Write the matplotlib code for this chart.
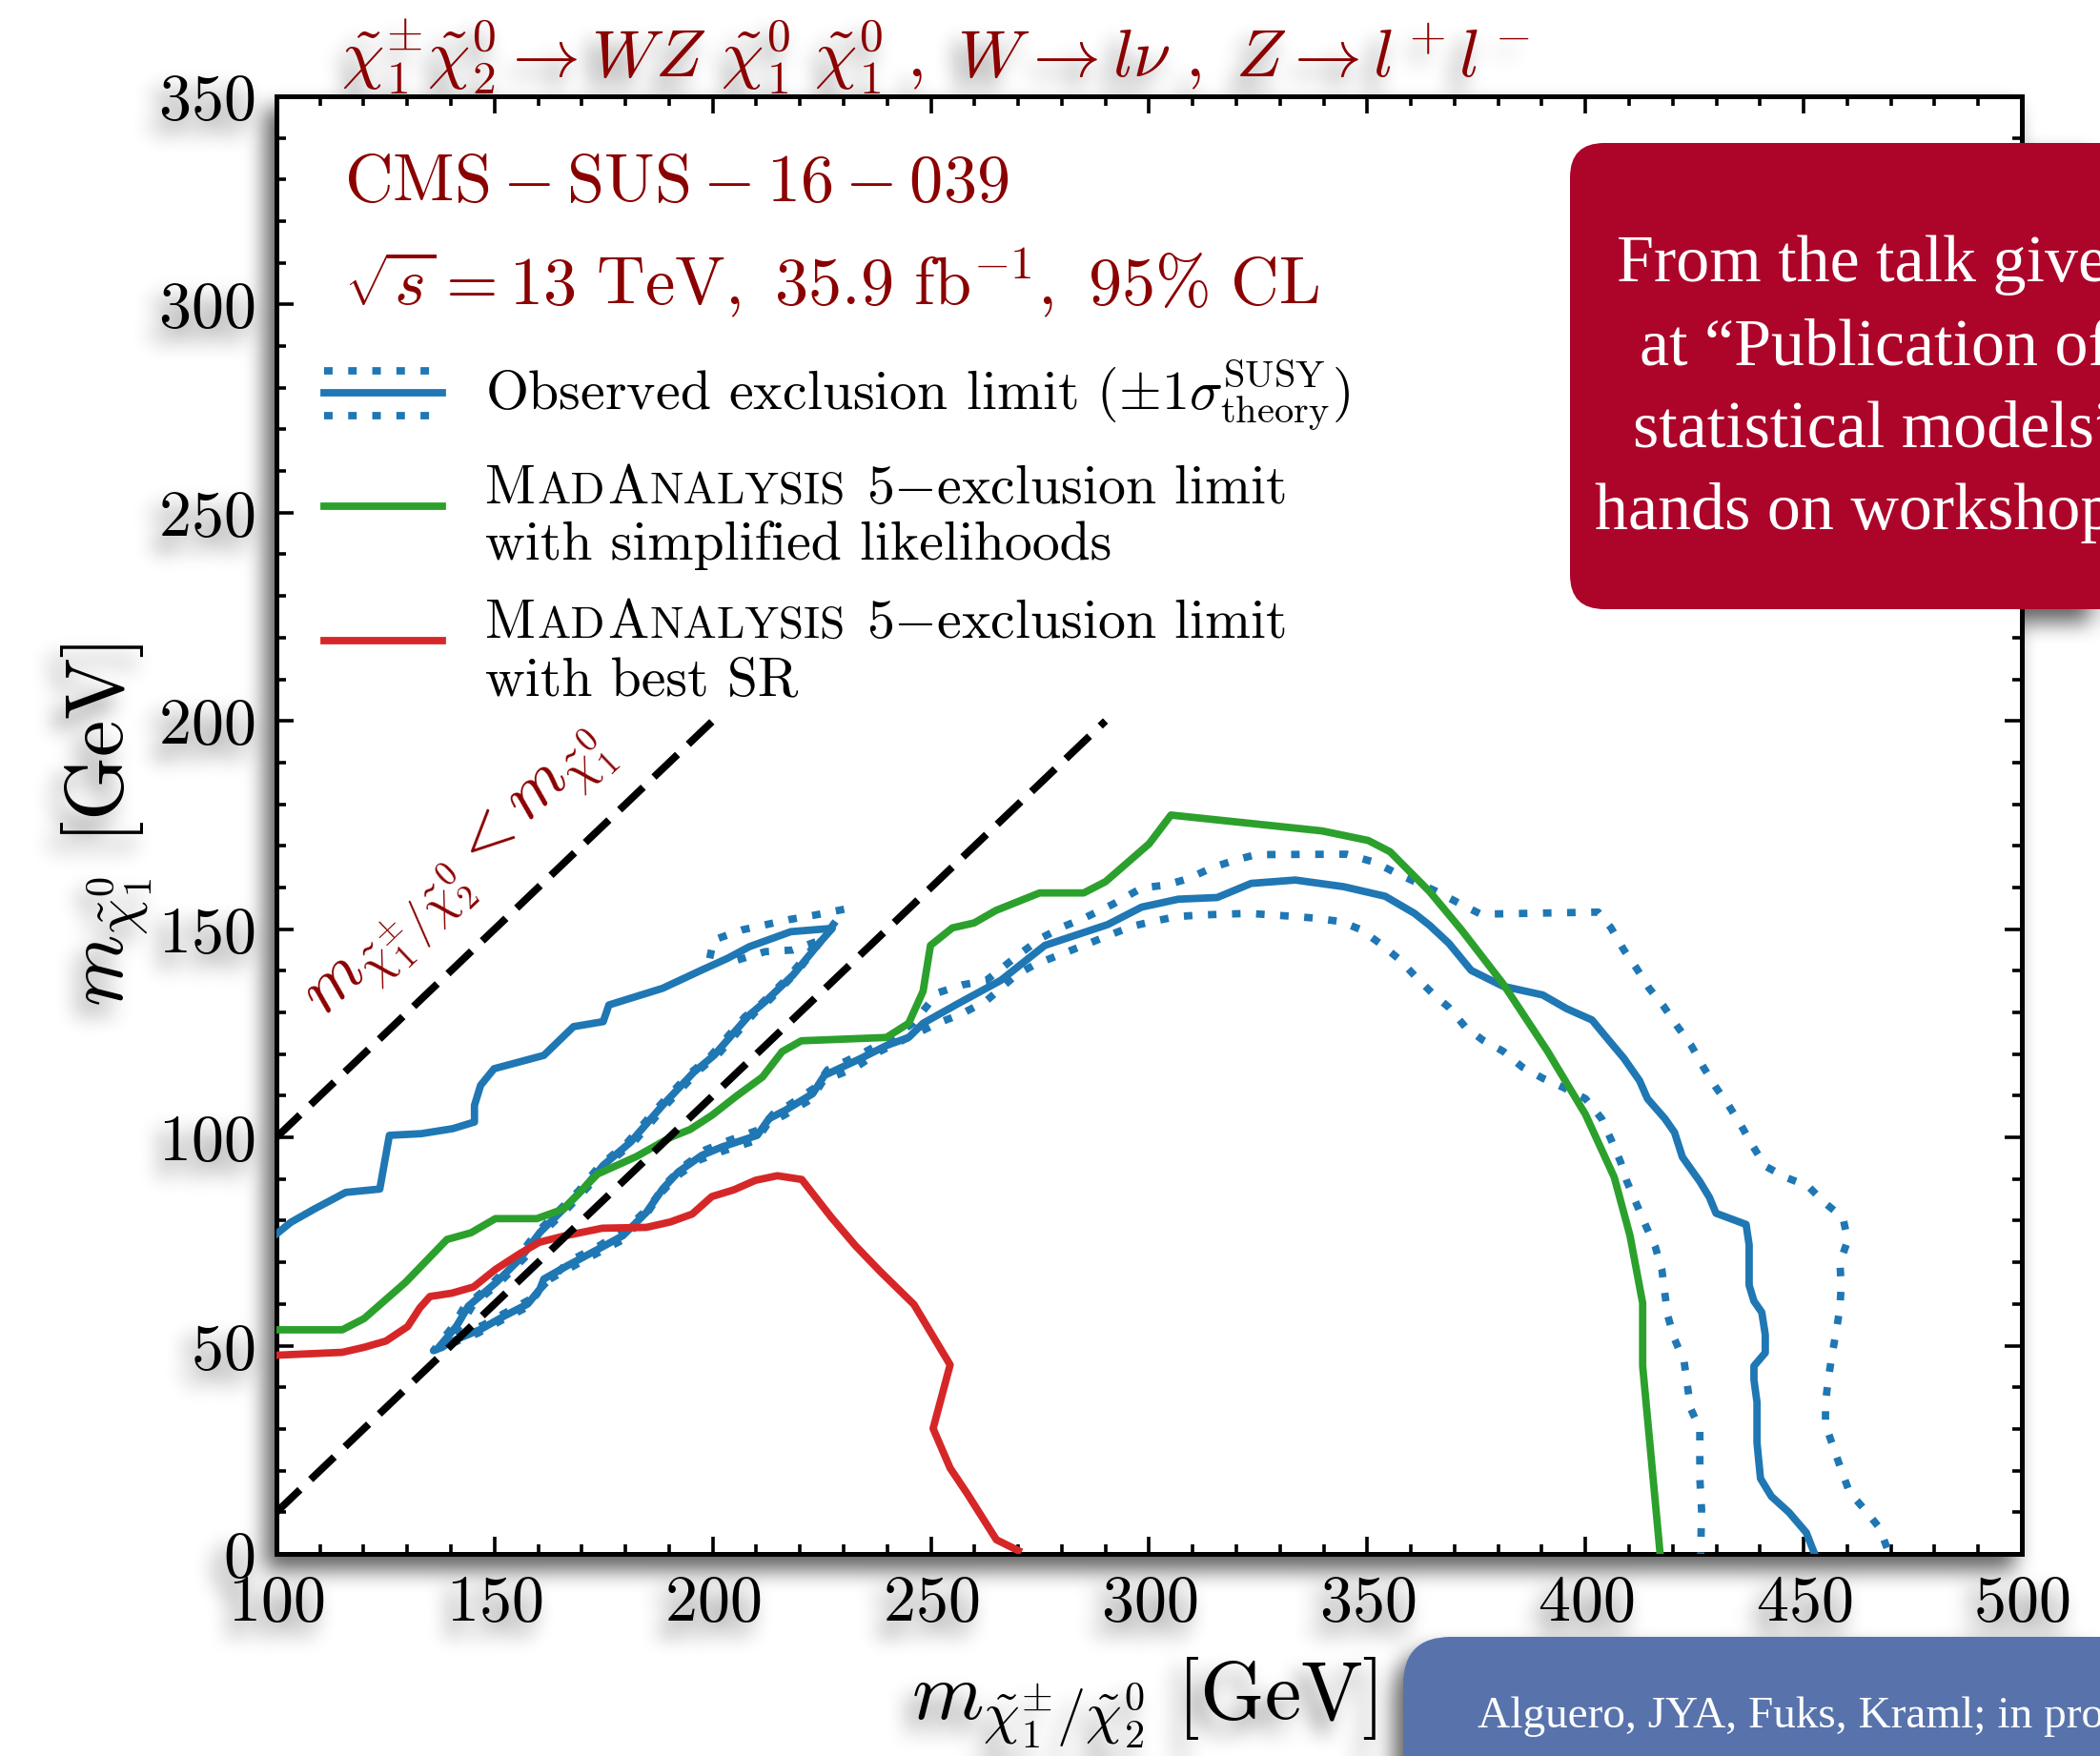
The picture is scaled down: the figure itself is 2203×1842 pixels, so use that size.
import numpy as np
import matplotlib
matplotlib.use("Agg")
import matplotlib.pyplot as plt
from matplotlib.patches import FancyBboxPatch
from matplotlib.ticker import MultipleLocator

plt.rcParams.update({
    "font.family": "serif",
    "font.serif": ["cmr10"],
    "mathtext.fontset": "cm",
    "axes.formatter.use_mathtext": True,
})

# ---------------- data (GeV) ----------------
obs_x = [100.0, 103.3, 108.7, 115.9, 123.7, 125.9, 133.2, 140.4, 145.4, 145.4, 146.8, 149.9, 161.3, 168.1,
         174.9, 176.2, 188.5, 197.5, 203.4, 208.4, 217.9, 227.4,
         224.7, 218.4, 212.0, 208.4, 200.3, 195.7, 188.5, 181.2, 174.9, 170.3, 165.8, 160.4, 155.8, 150.4,
         144.0, 141.3, 136.8,
         141.3, 146.8, 152.2, 157.6, 160.4, 161.3, 166.7, 173.1, 179.4, 184.8, 188.5, 192.1, 197.5, 202.1,
         210.2, 212.9, 216.6, 222.9, 225.6, 233.8, 239.9, 244.9, 248.2, 256.0, 266.0, 276.1, 290.5, 298.3,
         306.7, 315.6, 323.4, 333.5, 344.6, 354.1, 360.8, 364.3, 368.7, 373.8, 381.1, 390.2, 395.7, 401.5,
         404.4, 408.8, 412.4, 414.2, 418.2, 420.4, 422.2, 426.2, 428.4, 429.9, 436.8, 437.5, 437.5, 438.6,
         440.4, 441.2, 441.2, 438.6, 438.6, 439.3, 439.3, 440.1, 442.6, 446.6, 450.6, 452.5]
obs_y = [76.8, 79.6, 82.8, 86.8, 87.6, 100.5, 100.9, 102.1, 103.7, 107.7, 112.5, 116.5, 119.7, 126.6,
         127.8, 131.8, 135.8, 140.2, 143.0, 145.8, 149.4, 150.2,
         147.0, 139.0, 132.6, 129.4, 119.7, 115.7, 107.7, 98.9, 93.3, 87.6, 82.8, 77.2, 70.8, 65.2,
         59.5, 54.7, 49.1,
         51.5, 53.9, 57.1, 60.0, 63.6, 66.0, 69.2, 72.8, 76.4, 82.0, 87.6, 91.7, 95.7, 97.7,
         100.5, 104.5, 106.5, 110.5, 114.9, 118.9, 122.1, 124.0, 127.4, 132.0, 137.7, 146.1, 151.1, 155.3,
         157.2, 157.6, 161.0, 161.8, 160.2, 157.9, 153.8, 150.9, 146.6, 140.1, 136.3, 134.2, 130.9, 128.2,
         124.5, 119.0, 113.6, 109.3, 104.5, 101.2, 95.3, 89.4, 85.6, 81.8, 79.1, 74.2, 64.5, 60.7,
         58.0, 52.6, 48.3, 45.1, 41.8, 36.4, 26.7, 18.1, 13.8, 10.0, 5.1, 0.0]

obs_up_x = [199.3, 200.2, 206.6, 217.5, 224.0, 230.2,
            226.5, 219.5, 213.0, 209.5, 201.3, 196.7, 189.5, 182.2, 175.9, 171.3, 166.8, 161.4, 156.8, 151.4,
            145.0, 142.3, 137.8,
            142.0, 147.5, 153.0, 158.3, 161.5, 167.5, 174.0, 180.0, 185.5, 189.2, 193.0, 198.3, 203.0, 211.0,
            213.8, 217.5, 223.5, 226.3, 234.5, 241.0, 246.0, 251.5, 257.1, 262.7, 270.5, 275.5, 280.5, 285.0,
            291.7, 298.3, 303.9, 308.9, 314.5, 320.1, 324.5, 345.2, 351.9, 356.9, 365.8, 370.9, 376.0, 402.9,
            405.8, 408.8, 411.7, 414.6, 417.9, 421.1, 424.1, 427.0, 429.9, 432.8, 435.7, 438.3, 441.2, 445.9,
            451.0, 454.6, 459.0, 460.1, 458.3, 458.6, 458.3, 457.5, 456.5, 455.7, 455.0, 455.0, 456.8, 458.6,
            460.5, 464.1, 467.4, 469.6]
obs_up_y = [143.0, 147.4, 149.8, 152.3, 153.5, 154.8,
            149.5, 140.0, 133.0, 129.8, 120.0, 116.0, 108.0, 99.2, 93.6, 88.0, 83.0, 77.5, 71.0, 65.4,
            59.7, 55.0, 49.5,
            52.5, 55.0, 58.2, 61.2, 64.8, 70.5, 74.0, 77.8, 83.3, 88.8, 92.8, 97.0, 99.0, 102.0,
            105.6, 107.8, 112.0, 116.2, 120.3, 124.0, 127.5, 134.7, 136.6, 137.7, 144.2, 148.0, 150.7, 152.6,
            156.0, 159.9, 160.6, 162.1, 164.8, 166.7, 167.9, 168.0, 166.0, 163.3, 159.1, 156.3, 153.6, 154.1,
            150.4, 145.0, 140.6, 135.8, 131.5, 126.6, 122.3, 116.9, 112.0, 107.7, 102.8, 98.0, 93.1, 90.4,
            88.3, 84.5, 80.7, 75.3, 69.9, 64.5, 59.1, 53.7, 47.8, 42.4, 36.4, 31.0, 25.6, 20.2,
            14.8, 10.5, 6.2, 0.0]

obs_dn_x = [205.7, 212.0, 218.4, 225.0,
            223.7, 217.4, 211.0, 207.4, 199.3, 194.7, 187.5, 180.2, 173.9, 169.3, 164.8, 159.4, 154.8, 149.4,
            143.0, 140.3, 136.0,
            140.8, 146.2, 151.8, 157.0, 159.8, 161.0, 166.5, 172.8, 179.0, 184.3, 188.0, 191.8, 197.0, 202.0,
            210.0, 212.6, 216.3, 222.6, 225.3, 232.6, 238.2, 251.5, 257.1, 262.7, 269.4, 273.8, 279.4, 285.0,
            290.5, 296.1, 300.6, 306.2, 311.7, 322.9, 334.0, 338.5, 344.0, 348.5, 353.0, 357.4, 360.8, 365.2,
            368.6, 372.4, 376.4, 381.1, 385.5, 390.2, 394.9, 400.0, 403.7, 405.8, 408.0, 409.5, 411.7, 413.9,
            416.0, 417.5, 418.2, 418.9, 420.4, 422.6, 423.3, 424.1, 426.2, 426.2, 426.6, 426.4]
obs_dn_y = [142.6, 144.6, 145.0, 147.5,
            146.5, 138.5, 132.0, 129.0, 119.3, 115.3, 107.3, 98.5, 93.0, 87.2, 82.5, 76.8, 70.5, 64.9,
            59.2, 54.4, 48.8,
            50.8, 53.0, 56.2, 59.0, 62.5, 65.0, 68.2, 71.8, 75.2, 80.8, 86.5, 90.7, 94.6, 96.6,
            99.3, 103.3, 105.3, 109.2, 113.6, 116.7, 120.6, 127.4, 129.7, 132.8, 138.9, 141.5, 143.8, 146.1,
            148.4, 150.7, 151.8, 153.0, 153.4, 153.8, 153.0, 152.6, 151.8, 149.9, 146.5, 142.7, 138.9, 134.3,
            131.3, 126.6, 123.4, 120.7, 116.9, 114.2, 112.0, 109.3, 104.5, 99.6, 94.2, 89.4, 84.0, 78.6,
            73.7, 68.3, 62.4, 57.0, 51.6, 46.2, 40.8, 34.9, 30.0, 18.1, 10.6, 0.0]

ma5_sl_x = [100.0, 115.1, 120.1, 129.6, 139.1, 144.6, 150.2, 159.7, 165.8, 173.6, 182.5, 190.3, 194.8,
            199.8, 205.4, 211.4, 215.9, 220.3, 239.8, 244.9, 248.2, 249.9, 254.9, 259.9, 264.9, 274.9,
            285.0, 290.0, 300.0, 305.0, 339.6, 350.2, 355.2, 364.3, 371.6, 381.1, 391.3, 400.0, 406.6,
            410.2, 413.1, 413.1, 417.1]
ma5_sl_y = [53.8, 53.8, 56.5, 65.2, 75.5, 77.1, 80.5, 80.5, 82.8, 91.2, 95.4, 100.0, 101.9,
            105.3, 109.9, 114.5, 120.6, 123.2, 124.0, 127.4, 135.1, 146.1, 150.3, 151.5, 154.5, 158.7,
            158.7, 161.4, 170.5, 177.4, 173.6, 171.3, 168.6, 159.0, 149.8, 136.9, 120.7, 105.5, 90.4,
            76.4, 60.2, 45.1, 0.0]

ma5_sr_x = [100.0, 115.1, 120.1, 125.1, 130.1, 132.9, 135.2, 140.2, 145.2, 150.2, 155.8, 160.2, 165.8,
            174.7, 184.8, 190.3, 195.3, 199.8, 204.8, 209.8, 214.8, 220.4, 227.1, 232.7, 238.3, 246.1,
            254.4, 250.5, 254.4, 258.3, 265.0, 270.0]
ma5_sr_y = [47.7, 48.4, 49.6, 51.1, 54.6, 59.1, 61.8, 62.6, 64.1, 68.3, 72.1, 74.8, 76.3,
            78.2, 78.4, 79.7, 81.6, 85.8, 87.4, 89.7, 90.8, 89.9, 80.9, 74.0, 67.9, 59.9,
            45.4, 30.1, 20.6, 14.5, 3.4, 0.8]

# kinematic boundaries m_chargino = m_LSP and m_chargino = m_LSP + m_Z
kin_x = [100, 200]
kin_y = [100, 200]
kinZ_x = [100, 290]
kinZ_y = [10, 200]

BLUE, GREEN, RED = "#1f77b4", "#2ca02c", "#d62728"
DARKRED = "#8b0000"
LW = 2.8
DOT = (1.15, 2.1)

DPI = 200
fig = plt.figure(figsize=(2203 / DPI, 1842 / DPI), dpi=DPI)
ax = fig.add_axes([0.1316, 0.1151, 0.8312, 0.8301])
ax.set_facecolor("white")

ax.plot(obs_up_x, obs_up_y, color=BLUE, lw=LW, dashes=DOT, zorder=3)
ax.plot(obs_dn_x, obs_dn_y, color=BLUE, lw=LW, dashes=DOT, zorder=3)
ax.plot(obs_x, obs_y, color=BLUE, lw=LW, zorder=4)
ax.plot(ma5_sl_x, ma5_sl_y, color=GREEN, lw=LW, zorder=5)
ax.plot(ma5_sr_x, ma5_sr_y, color=RED, lw=LW, zorder=5)
ax.plot(kin_x, kin_y, color="black", lw=2.8, dashes=(4.4, 2.0), zorder=6)
ax.plot(kinZ_x, kinZ_y, color="black", lw=2.8, dashes=(4.4, 2.0), zorder=6)

ax.set_xlim(100, 500)
ax.set_ylim(0, 350)
ax.xaxis.set_major_locator(MultipleLocator(50))
ax.xaxis.set_minor_locator(MultipleLocator(10))
ax.yaxis.set_major_locator(MultipleLocator(50))
ax.yaxis.set_minor_locator(MultipleLocator(10))
ax.tick_params(which="both", direction="in", top=True, right=True, width=1.3, labelsize=24.5, pad=8)
ax.tick_params(which="major", length=6.5)
ax.tick_params(which="minor", length=3.6)
for sp in ax.spines.values():
    sp.set_linewidth(1.8)

ax.set_xlabel(r"$m_{\tilde{\chi}_1^{\pm}/\tilde{\chi}_2^0}\ [\mathrm{GeV}]$", fontsize=31, va="baseline")
ax.xaxis.set_label_coords(0.497, -0.1135)
ax.set_ylabel(r"$m_{\tilde{\chi}_1^0}\ [\mathrm{GeV}]$", fontsize=31, va="baseline")
ax.yaxis.set_label_coords(-0.0875, 0.5)

fig.text(358 / 2203, 1 - 82 / 1842,
         r"$\tilde{\chi}_1^{\pm}\tilde{\chi}_2^0 \rightarrow WZ\ \tilde{\chi}_1^0\ \tilde{\chi}_1^0\ ,\ "
         r"W \rightarrow l\nu\ ,\ Z \rightarrow l^+l^-$",
         color=DARKRED, fontsize=25.5, ha="left", va="baseline")

ax.text(0.0388, 0.928, r"$\mathrm{CMS-SUS-16-039}$", transform=ax.transAxes,
        color=DARKRED, fontsize=25.3, va="baseline")
ax.text(0.0388, 0.857, r"$\sqrt{s}=13\ \mathrm{TeV},\ 35.9\ \mathrm{fb}^{-1},\ 95\%\ \mathrm{CL}$",
        transform=ax.transAxes, color=DARKRED, fontsize=25.3, va="baseline")

# label along the m_chargino = m_LSP boundary
p0 = ax.transData.transform((100, 100))
p1 = ax.transData.transform((200, 200))
ang = np.degrees(np.arctan2(p1[1] - p0[1], p1[0] - p0[0]))
ax.text(142.2, 162.3, r"$m_{\tilde{\chi}_1^{\pm}/\tilde{\chi}_2^0} < m_{\tilde{\chi}_1^0}$",
        color=DARKRED, fontsize=26, rotation=ang, rotation_mode="anchor",
        ha="center", va="center")

# ---------------- legend ----------------
hx = [0.0273, 0.0950]
ax.plot(hx, [0.8117] * 2, transform=ax.transAxes, color=BLUE, lw=LW, dashes=DOT, clip_on=False)
ax.plot(hx, [0.7966] * 2, transform=ax.transAxes, color=BLUE, lw=LW, clip_on=False)
ax.plot(hx, [0.7809] * 2, transform=ax.transAxes, color=BLUE, lw=LW, dashes=DOT, clip_on=False)
ax.plot(hx, [0.7188] * 2, transform=ax.transAxes, color=GREEN, lw=LW, clip_on=False)
ax.plot(hx, [0.6266] * 2, transform=ax.transAxes, color=RED, lw=LW, clip_on=False)

LEG = 20.8
SC = 17
renderer = fig.canvas.get_renderer()


def text_runs(x, y, runs):
    """Place text pieces of different sizes on a common baseline (axes coords)."""
    xd, yd = ax.transAxes.transform((x, y))
    inv = ax.transAxes.inverted()
    for s, size, gap in runs:
        xd += gap
        t = ax.text(*inv.transform((xd, yd)), s, fontsize=size, transform=ax.transAxes,
                    ha="left", va="baseline")
        xd = t.get_window_extent(renderer=renderer).x1


ax.text(0.1196, 0.7855, r"Observed exclusion limit $(\pm1\sigma^{\mathrm{SUSY}}_{\mathrm{theory}})$",
        transform=ax.transAxes, fontsize=LEG, va="baseline")
ma5 = [("M", LEG, 0), ("AD", SC, 1.5), ("A", LEG, 2), ("NALYSIS", SC, 1.5), (r"5$-$exclusion limit", LEG, 22)]
text_runs(0.1196, 0.7207, ma5)
ax.text(0.1196, 0.6821, "with simplified likelihoods", transform=ax.transAxes, fontsize=LEG, va="baseline")
text_runs(0.1196, 0.6285, ma5)
ax.text(0.1196, 0.5893, "with best SR", transform=ax.transAxes, fontsize=LEG, va="baseline")

# ---------------- slide overlays ----------------
inch = fig.dpi_scale_trans
red_box = FancyBboxPatch((1647 / DPI, (1842 - 639) / DPI), 700 / DPI, 489 / DPI,
                         boxstyle="round,pad=0,rounding_size=0.18", transform=inch,
                         facecolor="#ad052a", edgecolor="none", zorder=20)
fig.patches.append(red_box)
talk_lines = [("From the talk given", 1696, 295), ("at \u201cPublication of", 1720, 382),
              ("statistical models\u201d", 1713, 468), ("hands on workshop", 1673, 555)]
for s, px, py in talk_lines:
    fig.text(px / DPI, (1842 - py) / DPI, s, transform=inch, color="white", fontsize=25.2,
             family="Liberation Serif", ha="left", va="baseline", zorder=21)

blue_box = FancyBboxPatch((1472 / DPI, 0 - 0.3), 900 / DPI, (1842 - 1717) / DPI + 0.3,
                          boxstyle="round,pad=0,rounding_size=0.25", transform=inch,
                          facecolor="#5873ac", edgecolor="none", zorder=20)
fig.patches.append(blue_box)
fig.text(1550 / DPI, (1842 - 1812) / DPI, "Alguero, JYA, Fuks, Kraml; in progress", transform=inch,
         color="white", fontsize=17, family="Liberation Serif", ha="left", va="baseline", zorder=21)

# ---------------- soft drop shadow behind the slide content ----------------
fig.patch.set_alpha(0.0)
fig.canvas.draw()
alpha = np.asarray(fig.canvas.buffer_rgba())[..., 3].astype(float) / 255.0


def box_blur(a, r, axis):
    pad = [(0, 0)] * a.ndim
    pad[axis] = (r + 1, r)
    p = np.pad(a, pad, mode="edge")
    c = np.cumsum(p, axis=axis)
    n = a.shape[axis]
    hi = np.take(c, np.arange(2 * r + 1, 2 * r + 1 + n), axis=axis)
    lo = np.take(c, np.arange(0, n), axis=axis)
    return (hi - lo) / (2 * r + 1)


dx, dy = -10, 14
H, W = alpha.shape
sh = np.zeros_like(alpha)
sh[max(dy, 0):H + min(dy, 0), max(dx, 0):W + min(dx, 0)] = \
    alpha[max(-dy, 0):H - max(dy, 0), max(-dx, 0):W - max(dx, 0)]
for _ in range(3):
    sh = box_blur(sh, 10, 0)
    sh = box_blur(sh, 10, 1)
shadow = np.zeros((H, W, 4), dtype=np.uint8)
shadow[..., 3] = np.clip(sh * 0.62 * 255, 0, 255).astype(np.uint8)

fig.patch.set_alpha(1.0)
fig.patch.set_facecolor("white")
fig.figimage(shadow, xo=0, yo=0, origin="upper", zorder=-5)

fig.savefig("out.png", dpi=DPI, facecolor="white")
